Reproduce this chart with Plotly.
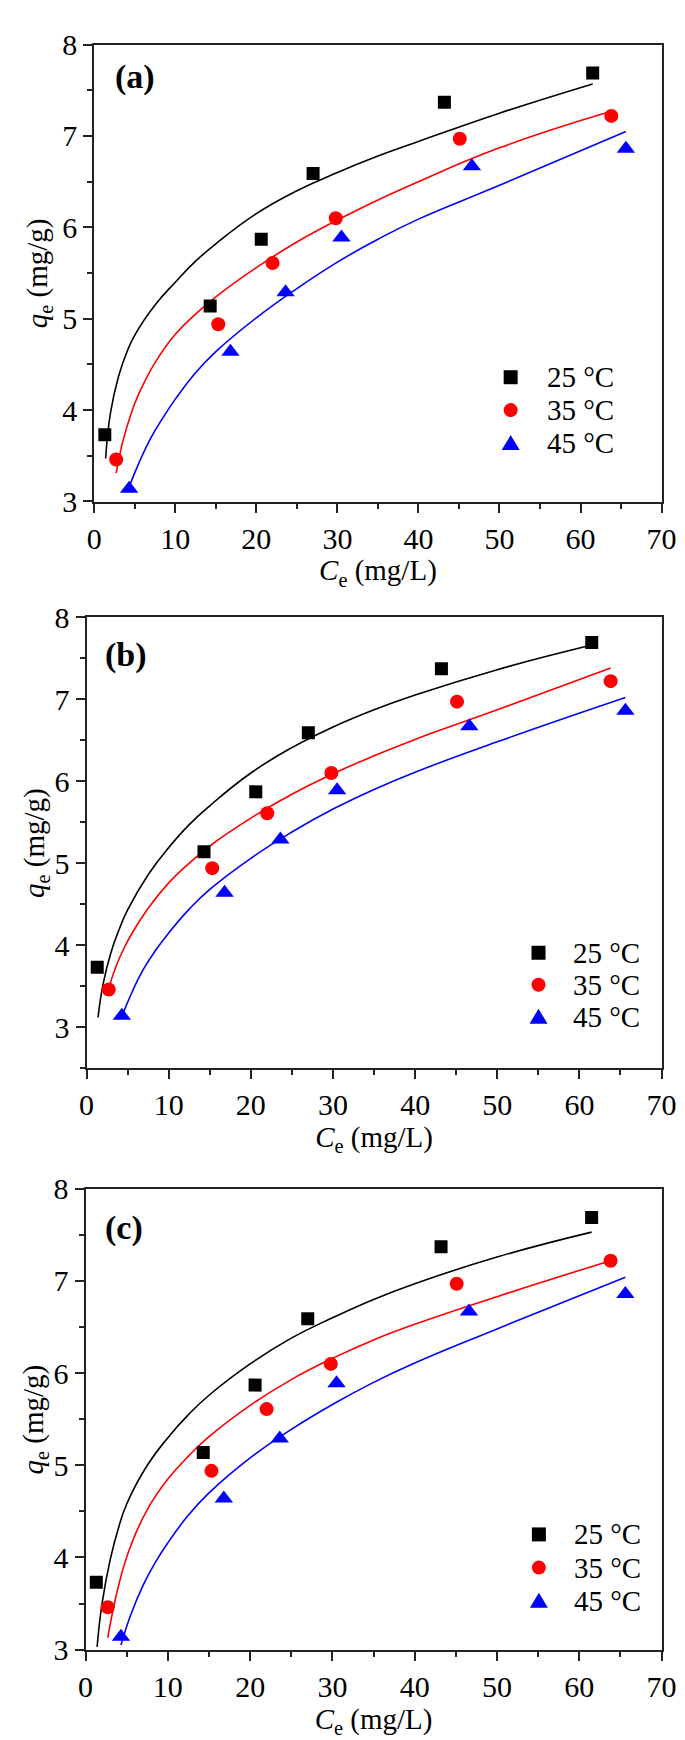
import plotly.graph_objects as go

# ---------------- data ----------------
temps = ["25 °C", "35 °C", "45 °C"]
colors = ["#000000", "#ff0000", "#0000ff"]
symbols = ["square", "circle", "triangle-up"]
msizes = [13, 14, 16]

ce_25 = [1.3, 14.3, 20.6, 27.0, 43.2, 61.5]
qe_25 = [3.73, 5.14, 5.87, 6.59, 7.37, 7.69]
ce_35 = [2.7, 15.3, 22.0, 29.8, 45.1, 63.8]
qe_35 = [3.46, 4.94, 5.61, 6.10, 6.97, 7.22]
ce_45 = [4.3, 16.8, 23.6, 30.5, 46.6, 65.6]
qe_45 = [3.14, 4.64, 5.29, 5.89, 6.67, 6.86]

# fitted curves
fit_x_25 = [1.4, 2, 3, 4, 5, 7.5, 10, 12.5, 15, 20, 25, 30, 35, 40, 50, 61.5]
fit_x_35 = [2.7, 3.5, 4.5, 5.5, 7.5, 10, 12.5, 15, 20, 25, 30, 35, 40, 50, 63.8]
fit_x_45 = [4.3, 5.5, 7, 8.5, 10, 12.5, 15, 20, 25, 30, 35, 40, 50, 65.6]

fit_a_25 = [3.47, 3.97, 4.37, 4.63, 4.82, 5.15, 5.40, 5.63, 5.82, 6.15, 6.40, 6.60, 6.78, 6.94, 7.25, 7.57]
fit_a_35 = [3.31, 3.65, 3.95, 4.18, 4.52, 4.83, 5.05, 5.24, 5.56, 5.84, 6.08, 6.30, 6.50, 6.87, 7.27]
fit_a_45 = [3.16, 3.42, 3.70, 3.92, 4.12, 4.41, 4.64, 5.01, 5.33, 5.62, 5.87, 6.09, 6.46, 7.05]

fit_b_25 = [3.12, 3.52, 3.92, 4.20, 4.43, 4.86, 5.19, 5.47, 5.70, 6.10, 6.41, 6.66, 6.87, 7.05, 7.36, 7.66]
fit_b_35 = [3.47, 3.72, 3.95, 4.14, 4.45, 4.76, 5.00, 5.21, 5.55, 5.84, 6.09, 6.31, 6.51, 6.87, 7.38]
fit_b_45 = [3.13, 3.42, 3.72, 3.95, 4.15, 4.44, 4.68, 5.06, 5.38, 5.66, 5.90, 6.11, 6.48, 7.02]

fit_c_25 = [3.03, 3.50, 3.98, 4.32, 4.58, 5.00, 5.30, 5.55, 5.76, 6.10, 6.38, 6.60, 6.80, 6.97, 7.26, 7.53]
fit_c_35 = [3.13, 3.50, 3.86, 4.13, 4.52, 4.85, 5.10, 5.31, 5.65, 5.93, 6.16, 6.36, 6.53, 6.83, 7.22]
fit_c_45 = [3.05, 3.38, 3.70, 3.95, 4.16, 4.46, 4.70, 5.08, 5.39, 5.66, 5.90, 6.11, 6.48, 7.04]

panel_labels = ["(a)", "(b)", "(c)"]
y_ranges = [[3, 8], [2.5, 8], [3, 8]]
x_range = [0, 70]

# ---------------- layout geometry ----------------
W, H = 685, 1740
FONT = "Liberation Serif, Times New Roman, Times, serif"
# pixel boxes of plot areas: (left, right, top, bottom)
boxes = [(81, 668, 20, 486), (73, 668, 604, 1064), (72, 668, 1187, 1657)]
ytitle_x = [24, 20, 20]
# legend placement in axis-domain fractions: marker x, text x, first-row y, row step
legend_pos = [(0.734, 0.795, 0.272, 0.072),
              (0.786, 0.842, 0.256, 0.071),
              (0.787, 0.845, 0.250, 0.072)]
label_pos = [(0.033, 0.93), (0.028, 0.917), (0.030, 0.915)]

ce_all = [ce_25, ce_35, ce_45]
qe_all = [qe_25, qe_35, qe_45]
fx_all = [fit_x_25, fit_x_35, fit_x_45]
fits = [[fit_a_25, fit_a_35, fit_a_45],
        [fit_b_25, fit_b_35, fit_b_45],
        [fit_c_25, fit_c_35, fit_c_45]]

fig = go.Figure()
layout = dict(
    width=W, height=H, margin=dict(l=0, r=0, t=0, b=0),
    paper_bgcolor="white", plot_bgcolor="white",
    font=dict(family=FONT, size=28, color="black"),
    showlegend=False,
)
annotations = []
shapes = []

for p in range(3):
    sfx = "" if p == 0 else str(p + 1)
    xa, ya = "x" + sfx, "y" + sfx
    l, r, t, b = boxes[p]
    for s in range(3):
        fig.add_trace(go.Scatter(
            x=fx_all[s], y=fits[p][s], mode="lines", xaxis=xa, yaxis=ya,
            line=dict(color=colors[s], width=1.6, shape="spline", smoothing=1.3),
            showlegend=False, hoverinfo="skip"))
    for s in range(3):
        fig.add_trace(go.Scatter(
            x=ce_all[s], y=qe_all[s], mode="markers", xaxis=xa, yaxis=ya,
            name=temps[s],
            marker=dict(color=colors[s], symbol=symbols[s], size=msizes[s],
                        line=dict(width=0))))
    axcommon = dict(
        showline=True, linecolor="#222222", linewidth=2, mirror=True,
        ticks="outside", ticklen=9, tickwidth=2, tickcolor="#222222",
        showgrid=False, zeroline=False,
        tickfont=dict(family=FONT, size=30, color="black"),
    )
    layout["xaxis" + sfx] = dict(
        axcommon, domain=[l / W, r / W], anchor=ya, range=x_range,
        dtick=10, tick0=0,
        minor=dict(ticks="outside", ticklen=5, tickwidth=2, dtick=5,
                   tickcolor="#222222", showgrid=False),
        title=dict(text="<i>C</i><sub>e</sub> (mg/L)", standoff=6,
                   font=dict(family=FONT, size=29)),
    )
    layout["yaxis" + sfx] = dict(
        axcommon, domain=[1 - b / H, 1 - t / H], anchor=xa, range=y_ranges[p],
        dtick=1, tick0=0,
        minor=dict(ticks="outside", ticklen=5, tickwidth=2, dtick=0.5,
                   tickcolor="#222222", showgrid=False),
    )
    xd, yd = xa + " domain", ya + " domain"
    # y-axis title as rotated text
    annotations.append(dict(
        text="<i>q</i><sub>e</sub> (mg/g)", xref="paper", yref=yd,
        x=ytitle_x[p] / W, y=0.5, xanchor="center", yanchor="middle",
        textangle=-90, showarrow=False,
        font=dict(family=FONT, size=29, color="black")))
    # legend drawn as layout shapes + text
    mx, tx, y0, dy = legend_pos[p]
    for s in range(3):
        yy = y0 - s * dy
        if s == 0:
            shapes.append(dict(type="rect", xref=xd, yref=yd, xsizemode="pixel",
                               ysizemode="pixel", xanchor=mx, yanchor=yy,
                               x0=-7, x1=7, y0=-7, y1=7,
                               fillcolor=colors[s], line=dict(width=0)))
        elif s == 1:
            shapes.append(dict(type="circle", xref=xd, yref=yd, xsizemode="pixel",
                               ysizemode="pixel", xanchor=mx, yanchor=yy,
                               x0=-7, x1=7, y0=-7, y1=7,
                               fillcolor=colors[s], line=dict(width=0)))
        else:
            shapes.append(dict(type="path", xref=xd, yref=yd, xsizemode="pixel",
                               ysizemode="pixel", xanchor=mx, yanchor=yy,
                               path="M-9,-7 L9,-7 L0,8 Z",
                               fillcolor=colors[s], line=dict(width=0)))
        annotations.append(dict(
            text=temps[s], xref=xd, yref=yd, x=tx, y=yy,
            xanchor="left", yanchor="middle", showarrow=False,
            font=dict(family=FONT, size=29, color="black")))
    lx, ly = label_pos[p]
    annotations.append(dict(
        text="<b>" + panel_labels[p] + "</b>", xref=xd, yref=yd,
        x=lx, y=ly, xanchor="left", yanchor="middle", showarrow=False,
        font=dict(family=FONT, size=34, color="black")))

layout["annotations"] = annotations
layout["shapes"] = shapes
fig.update_layout(**layout)
fig.write_html("out.html")
